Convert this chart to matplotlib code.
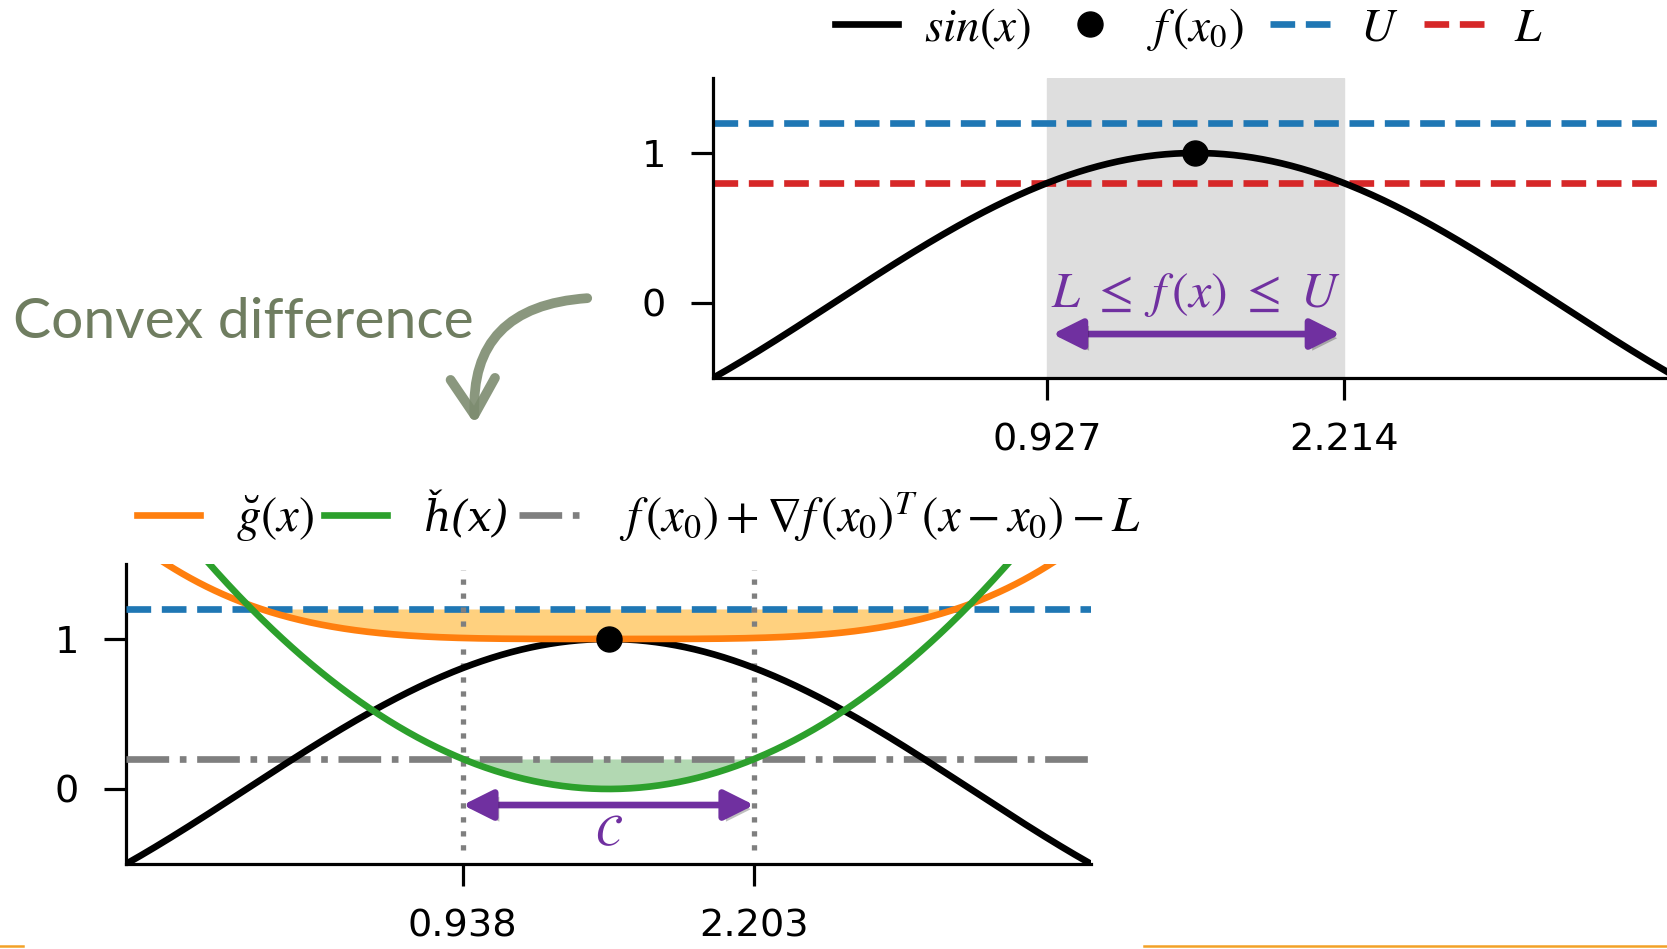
import numpy as np
import matplotlib
matplotlib.use("Agg")
import matplotlib.pyplot as plt
import matplotlib.patheffects as pe
from matplotlib.lines import Line2D
from matplotlib.patches import FancyArrowPatch
from matplotlib.legend_handler import HandlerLine2D

plt.rcParams['mathtext.fontset'] = 'stix'
plt.rcParams['font.family'] = 'DejaVu Sans'

# values
x_range = [-np.pi / 6, 7 * np.pi / 6]
x0 = np.pi / 2
U = 1.2
L = 0.8
h_curv = 0.5                      # h(x) = h_curv * (x - x0)^2
top_ticks = [0.927, 2.214]        # sin(x) = L
bot_ticks = [0.938, 2.203]        # h(x) = f(x0) - L
y_ticks = [0, 1]
y_range = [-0.5, 1.5]

purple = '#7030A0'
label_color = '#6F7D60'
LW = 4.8

x = np.linspace(x_range[0], x_range[1], 600)
f = np.sin(x)
h = h_curv * (x - x0) ** 2
g = f + h
lin = np.sin(x0) + np.cos(x0) * (x - x0) - L


class RightMarker(HandlerLine2D):
    # put the legend marker next to its label instead of mid-handle
    def get_xdata(self, legend, xdescent, ydescent, width, height, fontsize):
        return [-xdescent, -xdescent + width], [-xdescent + 0.95 * width]


fig = plt.figure(figsize=(16.67, 9.49), dpi=100)
ax1 = fig.add_axes([0.4277, 0.6017, 0.5789, 0.3161])
ax2 = fig.add_axes([0.0756, 0.0896, 0.5789, 0.3161])

for ax in (ax1, ax2):
    ax.set_xlim(x_range)
    ax.set_ylim(y_range)
    ax.spines['top'].set_visible(False)
    ax.spines['right'].set_visible(False)
    for s in ('left', 'bottom'):
        ax.spines[s].set_linewidth(2.3)
    ax.set_yticks(y_ticks)
    ax.tick_params(labelsize=27.5, length=16, width=2.3)
    ax.tick_params(axis='y', pad=18)
    ax.tick_params(axis='x', pad=16)

shadow = [pe.SimplePatchShadow(offset=(3, -3), shadow_rgbFace='black', alpha=0.25), pe.Normal()]
arr_style = '<|-|>,head_length=0.9,head_width=0.45'

# top chart
ax1.axvspan(top_ticks[0], top_ticks[1], color='#dedede', zorder=0)
ax1.axhline(U, color='tab:blue', ls='--', lw=LW)
ax1.axhline(L, color='tab:red', ls='--', lw=LW)
ax1.plot(x, f, color='black', lw=LW)
ax1.plot([x0], [np.sin(x0)], 'o', color='black', ms=18, zorder=5)
ax1.set_xticks(top_ticks)
ax1.set_xticklabels(['0.927', '2.214'])

a1 = FancyArrowPatch((0.95, -0.207), (2.20, -0.207), arrowstyle=arr_style,
                     mutation_scale=20, color=purple, lw=4.8, shrinkA=0, shrinkB=0)
a1.set_path_effects(shadow)
ax1.add_patch(a1)
ax1.text(x0, 0.05, r'$L\ \leq\ f\,(x)\ \leq\ U$', color=purple, fontsize=36,
         ha='center', va='center')

# bottom chart
ax2.fill_between(x, g, U, where=g <= U, interpolate=True, color='orange', alpha=0.5, lw=0)
ax2.fill_between(x, h, lin, where=h <= lin, interpolate=True, color='green', alpha=0.3, lw=0)
ax2.axhline(U, color='tab:blue', ls='--', lw=LW, zorder=3)
ax2.plot(x, lin, color='tab:gray', ls='-.', lw=LW, zorder=3)
ax2.vlines(bot_ticks, -0.41, 1.46, color='tab:gray', ls=':', lw=3.8, zorder=3)
ax2.plot(x, f, color='black', lw=LW, zorder=4)
ax2.plot(x, g, color='tab:orange', lw=LW, zorder=4)
ax2.plot(x, h, color='tab:green', lw=LW, zorder=4)
ax2.plot([x0], [np.sin(x0)], 'o', color='black', ms=18, zorder=6)
ax2.set_xticks(bot_ticks)
ax2.set_xticklabels(['0.938', '2.203'])

a2 = FancyArrowPatch((bot_ticks[0], -0.107), (bot_ticks[1], -0.107), arrowstyle=arr_style,
                     mutation_scale=20, color=purple, lw=4.8, shrinkA=0, shrinkB=0, zorder=7)
a2.set_path_effects(shadow)
ax2.add_patch(a2)
ax2.text(x0, -0.29, r'$\mathcal{C}$', color=purple, fontsize=32, ha='center', va='center')

# legends
h_top = [Line2D([], [], color='black', lw=LW),
         Line2D([], [], color='black', marker='o', ls='none', ms=18),
         Line2D([], [], color='tab:blue', ls='--', lw=LW),
         Line2D([], [], color='tab:red', ls='--', lw=LW)]
fig.legend(h_top, [r'$sin(x)$', r'$f\,(x_0)$', r'$U$', r'$L$'], ncol=4, frameon=False,
           loc='center', bbox_to_anchor=(0.713, 0.969), fontsize=34,
           handlelength=1.35, columnspacing=0.55, handletextpad=0.55,
           handler_map={h_top[1]: RightMarker()})

h_bot = [Line2D([], [], color='tab:orange', lw=LW),
         Line2D([], [], color='tab:green', lw=LW),
         Line2D([], [], color='tab:gray', ls='-.', lw=LW)]
leg2 = fig.legend(h_bot, [r'$\breve{g}(x)$', 'ȟ(x)',
                          r'$f\,(x_0) + \nabla f\,(x_0)^T\,(x - x_0) - L$'],
                  ncol=3, frameon=False, loc='center', bbox_to_anchor=(0.383, 0.456),
                  fontsize=35, handlelength=1.3, columnspacing=0.2, handletextpad=0.75)
# STIX has no h-with-caron glyph, so that label uses DejaVu Serif italic
leg2.get_texts()[1].set_fontfamily('DejaVu Serif')
leg2.get_texts()[1].set_fontstyle('italic')
leg2.get_texts()[1].set_fontsize(31)

# annotation with curved arrow
fig.text(13 / 1667, 1 - 338 / 949, 'Convex difference', color=label_color,
         fontsize=41, family='Lato', ha='left', va='baseline')
curve = FancyArrowPatch((590 / 1667, 1 - 298 / 949), (475 / 1667, 1 - 427 / 949),
                        transform=fig.transFigure, connectionstyle='arc3,rad=0.5',
                        arrowstyle='->,head_length=0.65,head_width=0.4', mutation_scale=40,
                        color='#7D8C70', lw=7, alpha=0.9, capstyle='round')
fig.add_artist(curve)

# slide footer line
fig.add_artist(Line2D([0, 0.014], [0.003, 0.003], transform=fig.transFigure, color='#F2A127', lw=1.8))
fig.add_artist(Line2D([0.686, 1], [0.003, 0.003], transform=fig.transFigure, color='#F2A127', lw=1.8))

fig.savefig('out.png', dpi=100)
